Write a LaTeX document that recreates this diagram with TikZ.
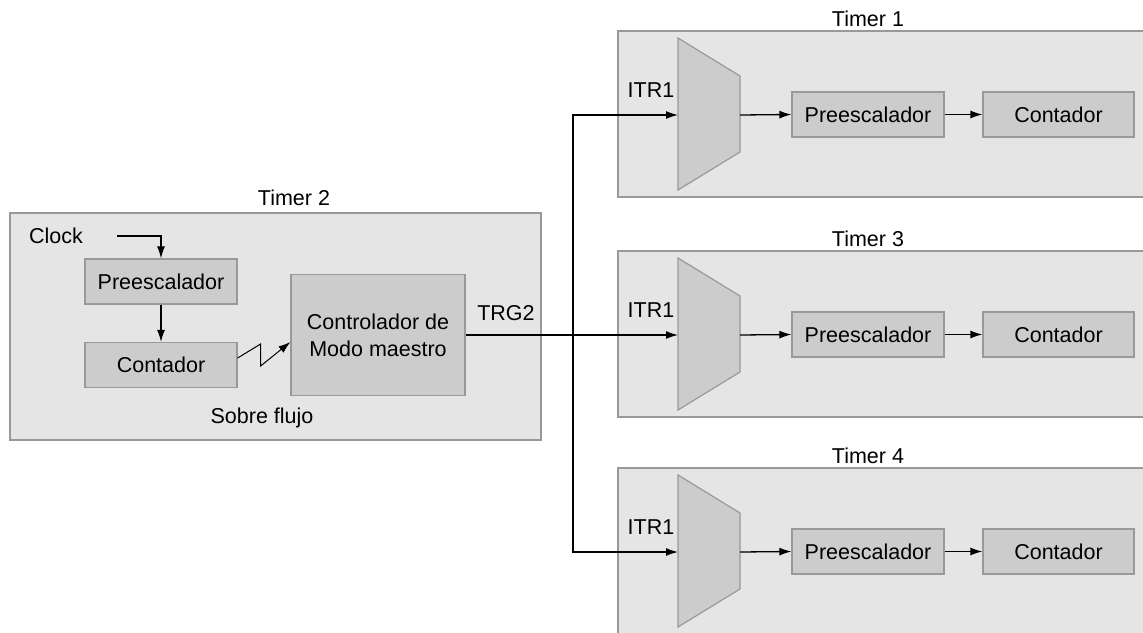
\documentclass[tikz,border=0pt]{standalone}
\usepackage{fontspec}
\setmainfont{Liberation Sans}
\usetikzlibrary{arrows.meta}
\begin{document}
\begin{tikzpicture}[x=1pt,y=-1pt,
  every node/.style={font=\fontsize{21.5}{25}\selectfont, inner sep=0pt},
  outer/.style={fill=black!10, draw=black!40, line width=1.2pt},
  blk/.style={fill=black!20, draw=black!40, line width=1.2pt, minimum width=152pt, minimum height=45pt},
  mux/.style={fill=black!20, draw=black!40, line width=1.2pt},
  arr/.style={-{Latex[length=12pt,width=8pt]}, line width=1.3pt},
  wire/.style={line width=1.3pt}]
\clip (0,0) rectangle (1143,632);
% Timer 2
\draw[outer] (10,213) rectangle (541,440);
\node (t2lab) at (294,198) {Timer 2};
\node (clk) at (56,236) {Clock};
\node[blk] (pre2) at (161,281.5) {Preescalador};
\node[blk] (con2) at (161,365) {Contador};
\node[blk, minimum width=174pt, minimum height=121pt, align=center] (ctrl) at (378,335) {Controlador de\\[2pt]Modo maestro};
\node (trg) at (506,313) {TRG2};
\node (sob) at (262,418) {Sobre flujo};
\coordinate (clks) at (117,236);
\draw[arr] (clks) -| (pre2.north);
\draw[arr] (pre2.south) -- (con2.north);
\draw[arr, line width=1pt] ([yshift=7pt]con2.east) -- ++(23,-14) -- ++(0,22) -- ([yshift=-7pt]ctrl.west);
% Timers 1,3,4
\foreach \n/\dy/\bot/\lab in {1/0/197/Timer 1, 3/220/197/Timer 3, 4/437/250/Timer 4}{
  \begin{scope}[yshift=-\dy pt]
    \draw[outer] (618,31) rectangle (1150,\bot);
    \node (tl\n) at (868,19) {\lab};
    \draw[mux] (678,38) -- (740,76) -- (740,152) -- (678,190) -- cycle;
    \coordinate (m\n in) at (678,115);
    \coordinate (m\n out) at (740,115);
    \node (itr\n) at (651,90) {ITR1};
    \node[blk] (pre\n) at (868,114.5) {Preescalador};
    \node[blk, minimum width=151pt] (con\n) at (1058.5,114.5) {Contador};
    \draw[arr] (m\n out) -- (pre\n.west);
    \draw[arr] (pre\n.east) -- (con\n.west);
  \end{scope}
}
\coordinate (split) at (573,335);
\draw[arr] (ctrl.east) -- (m3in);
\draw[arr] (split) |- (m1in);
\draw[arr] (split) |- (m4in);
\end{tikzpicture}
\end{document}
